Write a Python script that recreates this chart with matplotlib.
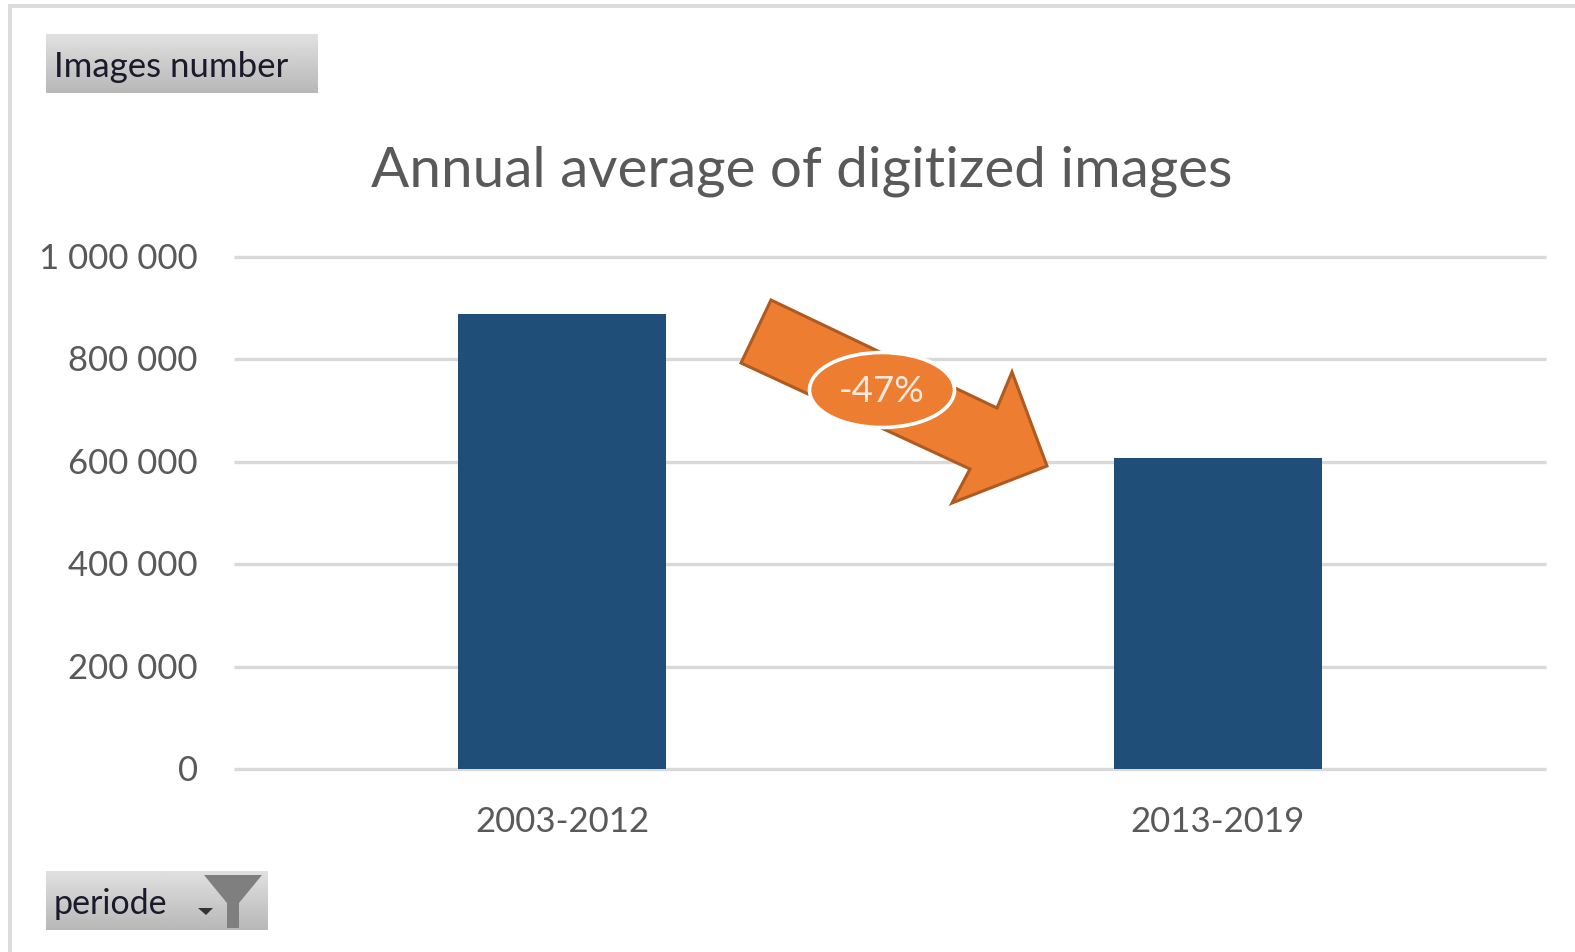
import numpy as np
import matplotlib
matplotlib.use("Agg")
import matplotlib.pyplot as plt
from matplotlib.patches import Polygon, Ellipse, Rectangle
from matplotlib.transforms import ScaledTranslation

plt.rcParams['font.family'] = ['Lato', 'DejaVu Sans']

W, H = 1575, 953

periods = ["2003-2012", "2013-2019"]
images = [888000, 607000]
y_ticks = [0, 200000, 400000, 600000, 800000, 1000000]
y_labels = ["0", "200 000", "400 000", "600 000", "800 000", "1 000 000"]

TXT = "#595959"
GRID = "#d9d9d9"
BAR = "#1f4e79"
ORANGE = "#ed7d31"
ORANGE_EDGE = "#ae5a21"

fig = plt.figure(figsize=(W / 100, H / 100), dpi=100, facecolor="white")

# plot area, pixels
left, right, top, bottom = 234, 1546, 258, 770
ax = fig.add_axes([left / W, 1 - bottom / H, (right - left) / W, (bottom - top) / H])
ax.set_xlim(0, 2)
ax.set_ylim(0, 1000000)
x = np.arange(len(periods)) + 0.5
ax.bar(x, images, width=0.317, color=BAR, zorder=3)
ax.set_xticks(x)
ax.set_xticklabels(periods, fontsize=25, color=TXT)
ax.set_yticks(y_ticks)
ax.set_yticklabels(y_labels, fontsize=25, color=TXT)
ax.tick_params(length=0, pad=26, axis="y")
ax.tick_params(length=0, pad=26, axis="x")
ax.yaxis.grid(True, color=GRID, lw=2.4, zorder=0)
ax.set_axisbelow(True)
for line in ax.get_ygridlines():
    line.set_clip_on(False)
    line.set_solid_capstyle("butt")
for s in ax.spines.values():
    s.set_visible(False)
# tick labels sit a little above their gridlines
up = ScaledTranslation(0, 2 / 100, fig.dpi_scale_trans)
for lab in ax.get_yticklabels():
    lab.set_transform(lab.get_transform() + up)

# everything else is placed in pixels
ov = fig.add_axes([0, 0, 1, 1], zorder=5)
ov.set_xlim(0, W)
ov.set_ylim(H, 0)
ov.axis("off")

# outer frame
ov.add_patch(Rectangle((8, 5), W, 4, color="#dcdcdc", lw=0))
ov.add_patch(Rectangle((8, 5), 4, H, color="#dcdcdc", lw=0))

ov.text(802, 171, "Annual average of digitized images", fontsize=40.8, color=TXT,
        ha="center", va="center")


def button(x0, y0, x1, y1):
    grad = np.linspace(0.88, 0.72, 64).reshape(-1, 1)
    ov.imshow(grad, extent=(x0, x1, y1, y0), cmap="gray", vmin=0, vmax=1,
              aspect="auto", zorder=2)


button(46, 35, 318, 94)
ov.text(54, 67, "Images number", fontsize=25, color="#1a1a2a", va="center", zorder=3)
button(46, 872, 268, 931)
ov.text(54, 904, "periode", fontsize=24.5, color="#1a1a2a", va="center", zorder=3)
ov.add_patch(Polygon([(204, 876), (262, 876), (239, 904), (239, 929), (227, 929), (227, 904)],
                     closed=True, color="#7f7f7f", lw=0, zorder=3))
ov.add_patch(Polygon([(198, 909), (213, 909), (206, 916)], closed=True, color="#333333", lw=0, zorder=3))

# arrow and badge
arrow = [(771, 301), (997, 409), (1012, 373), (1047, 467), (952, 504), (970, 470), (741, 364)]
ov.add_patch(Polygon(arrow, closed=True, fc=ORANGE, ec=ORANGE_EDGE, lw=2.2, zorder=4))
ov.add_patch(Ellipse((882, 391), 145, 75, fc=ORANGE, ec="white", lw=2.6, zorder=5))
ov.text(882, 392, "-47%", fontsize=26.5, color="#fbe9dd", ha="center", va="center", zorder=6)

ov.set_xlim(0, W)
ov.set_ylim(H, 0)
fig.savefig("out.png", dpi=100)
